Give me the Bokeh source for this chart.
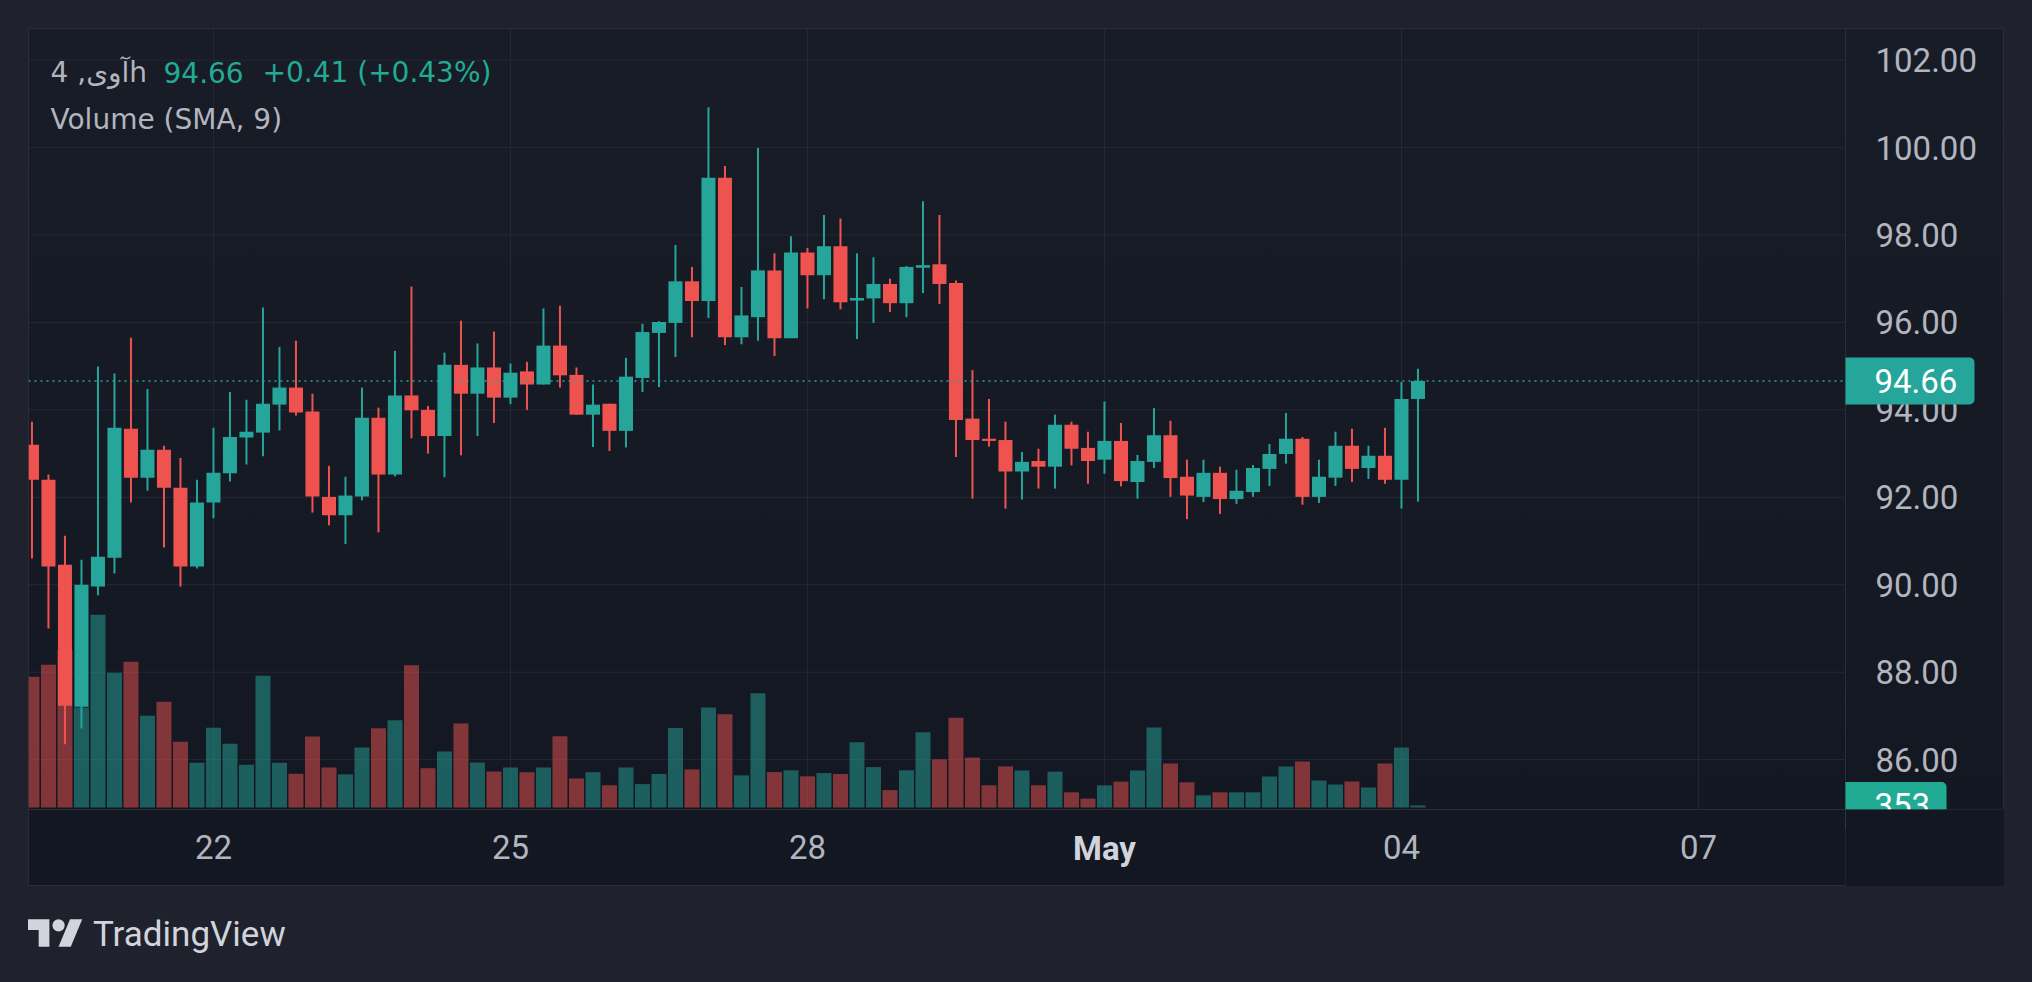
import pandas as pd
from bokeh.plotting import figure
from bokeh.models import (Range1d, FixedTicker, PrintfTickFormatter, Label,
                          BoxAnnotation, ColumnDataSource, Div, InlineStyleSheet,
                          GlobalInlineStyleSheet)
from bokeh.layouts import column
from bokeh.embed import file_html
from bokeh.resources import INLINE

# ---------------- data ----------------
symbol = "آوی"
interval = "4h"
first_bar = "2025-04-20 04:00"

opens = [93.20, 92.40, 90.46, 87.21, 89.96, 90.62, 93.57, 92.45, 93.09, 92.22,
         90.42, 91.88, 92.55, 93.37, 93.48, 94.12, 94.51, 93.96, 92.01, 91.59,
         92.02, 93.82, 92.52, 94.33, 94.00, 93.40, 95.03, 94.37, 94.97, 94.28,
         94.88, 94.58, 95.47, 94.80, 93.89, 94.14, 93.52, 94.73, 95.76, 95.99,
         96.94, 96.49, 99.31, 95.66, 96.12, 97.19, 95.64, 97.60, 97.08, 97.74,
         96.50, 96.55, 96.88, 96.44, 97.25, 97.33, 96.90, 93.80, 93.34, 93.31,
         92.59, 92.83, 92.70, 93.66, 93.13, 92.86, 93.29, 92.35, 92.81, 93.42,
         92.47, 92.01, 92.56, 91.96, 92.12, 92.65, 92.99, 93.34, 92.01, 92.45,
         93.18, 92.67, 92.95, 92.40, 94.25]
highs = [93.73, 92.52, 91.12, 90.57, 94.99, 94.83, 95.65, 94.48, 93.18, 92.90,
         92.40, 93.59, 94.41, 94.23, 96.34, 95.44, 95.58, 94.37, 92.72, 92.47,
         94.51, 94.05, 95.35, 96.82, 94.09, 95.31, 96.04, 95.52, 95.79, 95.06,
         95.10, 96.32, 96.38, 94.97, 94.58, 94.14, 95.19, 95.97, 96.03, 97.77,
         97.27, 100.92, 99.58, 96.81, 99.99, 97.58, 97.97, 97.70, 98.46, 98.38,
         97.58, 97.49, 97.00, 97.29, 98.77, 98.46, 96.96, 94.91, 94.25, 93.73,
         93.04, 93.11, 93.89, 93.73, 93.50, 94.19, 93.70, 92.97, 94.04, 93.75,
         92.86, 92.86, 92.70, 92.63, 92.74, 93.22, 93.93, 93.38, 92.86, 93.50,
         93.57, 93.18, 93.59, 94.64, 94.94]
lows = [90.60, 89.00, 86.35, 86.71, 89.76, 90.26, 91.88, 92.15, 90.85, 89.96,
        90.37, 91.52, 92.36, 92.75, 92.94, 93.53, 93.87, 91.65, 91.36, 90.93,
        91.93, 91.20, 92.48, 93.35, 93.00, 92.46, 92.96, 93.40, 93.70, 94.13,
        94.00, 94.58, 94.51, 93.89, 93.15, 93.06, 93.14, 94.41, 94.52, 95.21,
        95.66, 96.10, 95.48, 95.50, 95.58, 95.23, 95.64, 96.32, 96.53, 96.30,
        95.62, 95.99, 96.24, 96.12, 96.67, 96.42, 92.92, 91.97, 93.16, 91.74,
        91.95, 92.20, 92.20, 92.73, 92.31, 92.54, 92.25, 91.97, 92.67, 92.01,
        91.50, 91.89, 91.62, 91.85, 92.01, 92.26, 92.77, 91.83, 91.87, 92.26,
        92.35, 92.42, 92.31, 91.74, 91.90]
closes = [92.40, 90.42, 87.23, 90.00, 90.64, 93.59, 92.45, 93.09, 92.22, 90.42,
          91.88, 92.56, 93.38, 93.50, 94.14, 94.51, 93.94, 92.02, 91.59, 92.04,
          93.82, 92.52, 94.33, 93.99, 93.40, 95.03, 94.37, 94.97, 94.28, 94.85,
          94.58, 95.47, 94.79, 93.89, 94.12, 93.52, 94.76, 95.78, 96.01, 96.94,
          96.49, 99.31, 95.66, 96.16, 97.19, 95.64, 97.60, 97.08, 97.74, 96.46,
          96.56, 96.88, 96.44, 97.27, 97.31, 96.88, 93.77, 93.31, 93.29, 92.59,
          92.81, 92.70, 93.66, 93.11, 92.83, 93.29, 92.37, 92.83, 93.42, 92.44,
          92.04, 92.56, 91.96, 92.15, 92.67, 92.99, 93.34, 92.01, 92.47, 93.18,
          92.65, 92.95, 92.40, 94.25, 94.66]
volumes = [22220, 24260, 26810, 17000, 32760, 22900, 24770, 15590, 17970, 11170,
           7600, 13550, 10830, 7260, 22390, 7600, 5730, 12070, 6800, 5630,
           10200, 13480, 14840, 24170, 6680, 9520, 14280, 7650, 6120, 6800,
           6000, 6800, 12120, 4930, 6000, 3770, 6800, 3980, 5700, 13500,
           6480, 17020, 15840, 5460, 19430, 6020, 6320, 5300, 5850, 5700,
           11080, 6870, 2960, 6320, 12800, 8190, 15250, 8480, 3770, 6990,
           6290, 3770, 6100, 2580, 1510, 3770, 4400, 6290, 13580, 7480,
           4280, 2070, 2580, 2580, 2580, 5270, 6970, 7820, 4590, 3910,
           4420, 3400, 7480, 10200, 353]

price_ticks = [86, 88, 90, 92, 94, 96, 98, 100, 102]
date_ticks = ["2025-04-22", "2025-04-25", "2025-04-28", "2025-05-01", "2025-05-04", "2025-05-07"]
date_tick_labels = ["22", "25", "28", "May", "04", "07"]
month_tick = "2025-05-01"

last_price_text = "94.66"
change_text = "+0.41 (+0.43%)"
volume_title = "Volume (SMA, 9)"

# ---------------- styling / geometry ----------------
UP = "#26a69a"
DOWN = "#ef5350"
TEXT_UP = "#22ab94"
AXIS_TEXT = "#b2b5be"
GRID = "#2a2e39"
FONT = "Roboto"
LEGEND_FONT = "DejaVu Sans"

W, H = 1976, 858            # whole chart panel
PLOT_W, PLOT_H = 1817, 781  # price pane (left of price scale, above time scale)
PX_PER_BAR = 16.5
PX_PER_UNIT = 43.72
VOL_PX = 170                # volume units per pixel
VOL_BASE_PX = 2             # volume baseline above the time scale
TAG_HALF_H = 23.5           # half height of the price-scale tags, px

bar_ms = 4 * 3600 * 1000
times = pd.date_range(first_bar, periods=len(opens), freq="4h")
t0 = times[0].value / 1e6
x_start = t0 - 0.21 * bar_ms
x_end = x_start + W / PX_PER_BAR * bar_ms
x_sep = x_start + PLOT_W / PX_PER_BAR * bar_ms
y_top = 102.723
y_sep = y_top - PLOT_H / PX_PER_UNIT
y_bottom = y_top - H / PX_PER_UNIT
vol_start = -(H - PLOT_H + VOL_BASE_PX) * VOL_PX
vol_end = (PLOT_H - VOL_BASE_PX) * VOL_PX

colors = [UP if c >= o else DOWN for o, c in zip(opens, closes)]
src = ColumnDataSource(dict(
    t=times, open=opens, high=highs, low=lows, close=closes, vol=volumes,
    top=[max(o, c) for o, c in zip(opens, closes)],
    bottom=[min(o, c) for o, c in zip(opens, closes)],
    color=colors,
))

p = figure(width=W, height=H, output_backend="svg", toolbar_location=None,
           x_range=Range1d(x_start, x_end), y_range=Range1d(y_bottom, y_top),
           y_axis_location="right", min_border=0,
           min_border_left=0, min_border_right=0, min_border_top=0, min_border_bottom=0,
           margin=(28, 0, 0, 28))
p.extra_y_ranges = {"vol": Range1d(vol_start, vol_end)}
p.background_fill_alpha = 0
p.border_fill_alpha = 0
p.outline_line_color = None
p.grid.visible = False

line = "linear-gradient(#2a2e39,#2a2e39)"
css = f""":host {{
  background:
    {line} 0 0 / 100% 1px no-repeat,
    {line} 0 100% / 100% 1px no-repeat,
    {line} 0 0 / 1px 100% no-repeat,
    {line} 100% 0 / 1px 100% no-repeat,
    {line} {PLOT_W}px 0 / 1px 100% no-repeat,
    {line} 0 {PLOT_H}px / 100% 1px no-repeat,
    linear-gradient(180deg, #181c27 0%, #131722 100%);
}}"""
p.stylesheets = [InlineStyleSheet(css=css),
                 GlobalInlineStyleSheet(css="html, body { background-color: #1f222d; }")]

# grid lines of the price pane (drawn from the tick lists through the scales)
tick_ms = [pd.Timestamp(d).value / 1e6 for d in date_ticks]
p.segment(x0=tick_ms, x1=tick_ms, y0=[y_sep] * len(tick_ms), y1=[y_top] * len(tick_ms),
          line_color=GRID, line_alpha=0.75, line_width=1)
p.segment(x0=[x_start] * len(price_ticks), x1=[x_sep] * len(price_ticks),
          y0=price_ticks, y1=price_ticks, line_color=GRID, line_alpha=0.75, line_width=1)

# axes placed inside the panel
xa = p.xaxis[0]
xa.fixed_location = y_sep
xa.ticker = FixedTicker(ticks=tick_ms)
xa.major_label_overrides = {float(m): ("" if d == month_tick else lab)
                            for m, d, lab in zip(tick_ms, date_ticks, date_tick_labels)}
ya = p.yaxis[0]
ya.fixed_location = x_sep
ya.ticker = FixedTicker(ticks=price_ticks)
ya.formatter = PrintfTickFormatter(format="%.2f")
for ax, standoff in ((xa, 25), (ya, 30)):
    ax.axis_line_color = None
    ax.major_tick_line_color = None
    ax.minor_tick_line_color = None
    ax.major_tick_in = 0
    ax.major_tick_out = 0
    ax.minor_tick_out = 0
    ax.major_label_text_font = FONT
    ax.major_label_text_font_size = "33px"
    ax.major_label_text_color = AXIS_TEXT
    ax.major_label_standoff = standoff

# volume
p.vbar(x="t", width=bar_ms * 0.91, top="vol", bottom=0, fill_color="color", fill_alpha=0.5,
       line_color=None, y_range_name="vol", source=src)
# candles
p.segment(x0="t", y0="low", x1="t", y1="high", line_color="color", line_width=2, source=src)
p.vbar(x="t", width=bar_ms * 0.85, top="top", bottom="bottom", fill_color="color",
       line_color=None, source=src)

# last price line
p.segment(x0=[x_start], x1=[x_sep], y0=[closes[-1]], y1=[closes[-1]],
          line_color=UP, line_width=1.5, line_dash="2 4")

# legend texts
def canvas_label(x, y, text, color, font=LEGEND_FONT, size="28px", **kw):
    return Label(x=x, y=y, x_units="canvas", y_units="canvas", text=text,
                 text_font=font, text_font_size=size, text_color=color,
                 text_align="left", text_baseline="alphabetic", **kw)

p.add_layout(canvas_label(22, 44, f"{symbol}, {interval}", AXIS_TEXT))
p.add_layout(canvas_label(135, 44, last_price_text, TEXT_UP))
p.add_layout(canvas_label(234, 44, change_text, TEXT_UP))
p.add_layout(canvas_label(22, 91, volume_title, AXIS_TEXT))

# month label on the time scale (bold)
p.add_layout(Label(x=pd.Timestamp(month_tick).value / 1e6, y=820, y_units="canvas",
                   text=date_tick_labels[date_ticks.index(month_tick)],
                   text_font=FONT, text_font_size="33px", text_font_style="bold",
                   text_color="#d1d4dc", text_align="center", text_baseline="alphabetic"))

# price scale tags: box + text
price_half = TAG_HALF_H / PX_PER_UNIT
p.add_layout(BoxAnnotation(left=PLOT_W, right=PLOT_W + 129, left_units="canvas",
                           right_units="canvas",
                           top=closes[-1] + price_half, bottom=closes[-1] - price_half,
                           fill_color=UP, fill_alpha=1, line_color=None,
                           border_radius=(0, 5, 5, 0), level="annotation"))
p.add_layout(Label(x=PLOT_W + 29, y=closes[-1], x_units="canvas", text=last_price_text,
                   text_font=FONT, text_font_size="33px", text_color="#ffffff",
                   text_align="left", text_baseline="middle"))
vol_half = TAG_HALF_H * VOL_PX
p.add_layout(BoxAnnotation(left=PLOT_W, right=PLOT_W + 101, left_units="canvas",
                           right_units="canvas", y_range_name="vol",
                           top=volumes[-1] + vol_half, bottom=volumes[-1] - vol_half,
                           fill_color=TEXT_UP, fill_alpha=1, line_color=None,
                           border_radius=(0, 5, 5, 0), level="annotation"))
p.add_layout(Label(x=PLOT_W + 29, y=volumes[-1], x_units="canvas", y_range_name="vol",
                   text=f"{volumes[-1]}",
                   text_font=FONT, text_font_size="33px", text_color="#ffffff",
                   text_align="left", text_baseline="middle"))
# corner cell below the price scale (hides the overflow of the volume tag)
p.add_layout(BoxAnnotation(left=PLOT_W, right=W, top=PLOT_H, bottom=H,
                           left_units="canvas", right_units="canvas",
                           top_units="canvas", bottom_units="canvas",
                           fill_color="#131722", fill_alpha=1,
                           line_color="#2a2e39", line_width=1, level="overlay"))

logo = Div(text=(
    '<div style="display:flex;align-items:center;">'
    '<svg width="55" height="43" viewBox="0 0 36 28" style="margin-right:10px">'
    '<path fill="#d1d4dc" d="M14 22H7V11H0V4h14v18zM28 22h-8l7.5-18h8L28 22z"/>'
    '<circle fill="#d1d4dc" cx="20" cy="8" r="4"/></svg>'
    '<span style="font-family:Roboto;font-size:35px;color:#d1d4dc;line-height:43px;">TradingView</span>'
    '</div>'), width=400, height=45, margin=(27, 0, 0, 28))

root = column(p, logo)
open("out.html", "w").write(file_html(root, INLINE))
